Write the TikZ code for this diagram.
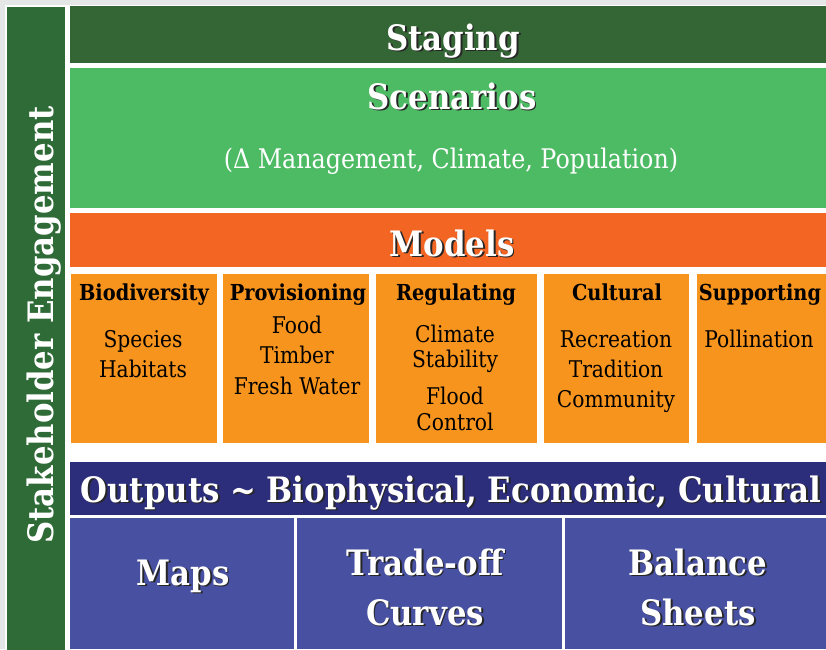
\documentclass[tikz,border=0pt]{standalone}
\usepackage{fontspec}
\setmainfont{DejaVu Serif}[FakeStretch=0.88]
\definecolor{pagebg}{HTML}{E5E7E7}
\definecolor{stakegreen}{HTML}{2F6B37}
\definecolor{staginggreen}{HTML}{346534}
\definecolor{scengreen}{HTML}{4DBA64}
\definecolor{modelhead}{HTML}{F26522}
\definecolor{modelbox}{HTML}{F7941E}
\definecolor{outhead}{HTML}{2C2D7B}
\definecolor{outbox}{HTML}{4750A1}
% white title text with a dark drop shadow
\newcommand\shd[1]{\leavevmode\rlap{\kern1.8pt\raisebox{-1.8pt}{\textcolor{black!85}{#1}}}#1}
\tikzset{
  panel/.style={anchor=north west, inner sep=0pt, outer sep=0pt, draw=none},
  title/.style={anchor=base, inner sep=0pt, text=white, font=\fontsize{35}{40}\selectfont\bfseries},
  subtitle/.style={anchor=base, inner sep=0pt, text=white, font=\fontsize{27}{30}\selectfont},
  colhead/.style={anchor=base, inner sep=0pt, text=black, font=\fontsize{22}{26}\selectfont\bfseries},
  item/.style={anchor=base, inner sep=0pt, text=black, font=\fontsize{23}{26}\selectfont},
}
\begin{document}
\begin{tikzpicture}[x=1pt, y=-1pt]
  \useasboundingbox (0,0) rectangle (826,649);
  \fill[pagebg] (0,0) rectangle (826,649);
  \fill[white] (5,5) rectangle (826,649);

  % side bar
  \node[panel, fill=stakegreen, minimum width=58pt, minimum height=643pt] (stake) at (7,7) {};
  \node[title, rotate=90] (staketext) at (53,325) {Stakeholder Engagement};

  % staging and scenarios
  \node[panel, fill=staginggreen, minimum width=756pt, minimum height=57pt] (staging) at (70,6) {};
  \node[title] (stagingtext) at (453,50) {\shd{Staging}};
  \node[panel, fill=scengreen, minimum width=756pt, minimum height=140pt] (scen) at (70,68) {};
  \node[title] (scentext) at (452,109) {\shd{Scenarios}};
  \node[subtitle] (scensub) at (451,168) {(Δ Management, Climate, Population)};

  % models
  \node[panel, fill=modelhead, minimum width=756pt, minimum height=54pt] (models) at (70,213) {};
  \node[title] (modelstext) at (452,256) {\shd{Models}};

  \node[panel, fill=modelbox, minimum width=146pt, minimum height=169pt] (bio) at (71,274) {};
  \node[panel, fill=modelbox, minimum width=146pt, minimum height=169pt] (prov) at (223,274) {};
  \node[panel, fill=modelbox, minimum width=161pt, minimum height=169pt] (reg) at (376,274) {};
  \node[panel, fill=modelbox, minimum width=145pt, minimum height=169pt] (cult) at (544,274) {};
  \node[panel, fill=modelbox, minimum width=129pt, minimum height=169pt] (supp) at (697,274) {};

  \node[colhead] (bioh) at (144,300) {Biodiversity};
  \node[item] (bio1) at (143,347) {Species};
  \node[item] (bio2) at (143,377) {Habitats};

  \node[colhead] (provh) at (298,300) {Provisioning};
  \node[item] (prov1) at (297,333) {Food};
  \node[item] (prov2) at (297,363) {Timber};
  \node[item] (prov3) at (297,394) {Fresh Water};

  \node[colhead] (regh) at (456,300) {Regulating};
  \node[item] (reg1) at (455,342) {Climate};
  \node[item] (reg2) at (455,367) {Stability};
  \node[item] (reg3) at (455,404) {Flood};
  \node[item] (reg4) at (455,430) {Control};

  \node[colhead] (culth) at (617,300) {Cultural};
  \node[item] (cult1) at (616,347) {Recreation};
  \node[item] (cult2) at (616,377) {Tradition};
  \node[item] (cult3) at (616,407) {Community};

  \node[colhead] (supph) at (760,300) {Supporting};
  \node[item] (supp1) at (759,347) {Pollination};

  % outputs
  \node[panel, fill=outhead, minimum width=756pt, minimum height=53pt] (outputs) at (70,462) {};
  \node[title] (outtext) at (451,502) {\shd{Outputs \char`~\ Biophysical, Economic, Cultural}};

  \node[panel, fill=outbox, minimum width=224pt, minimum height=131pt] (maps) at (70,518) {};
  \node[panel, fill=outbox, minimum width=265pt, minimum height=131pt] (curves) at (297,518) {};
  \node[panel, fill=outbox, minimum width=261pt, minimum height=131pt] (sheets) at (565,518) {};

  \node[title] (mapstext) at (183,585) {\shd{Maps}};
  \node[title] (curves1) at (425,575) {\shd{Trade-off}};
  \node[title] (curves2) at (425,625) {\shd{Curves}};
  \node[title] (sheets1) at (698,575) {\shd{Balance}};
  \node[title] (sheets2) at (698,625) {\shd{Sheets}};
\end{tikzpicture}
\end{document}
